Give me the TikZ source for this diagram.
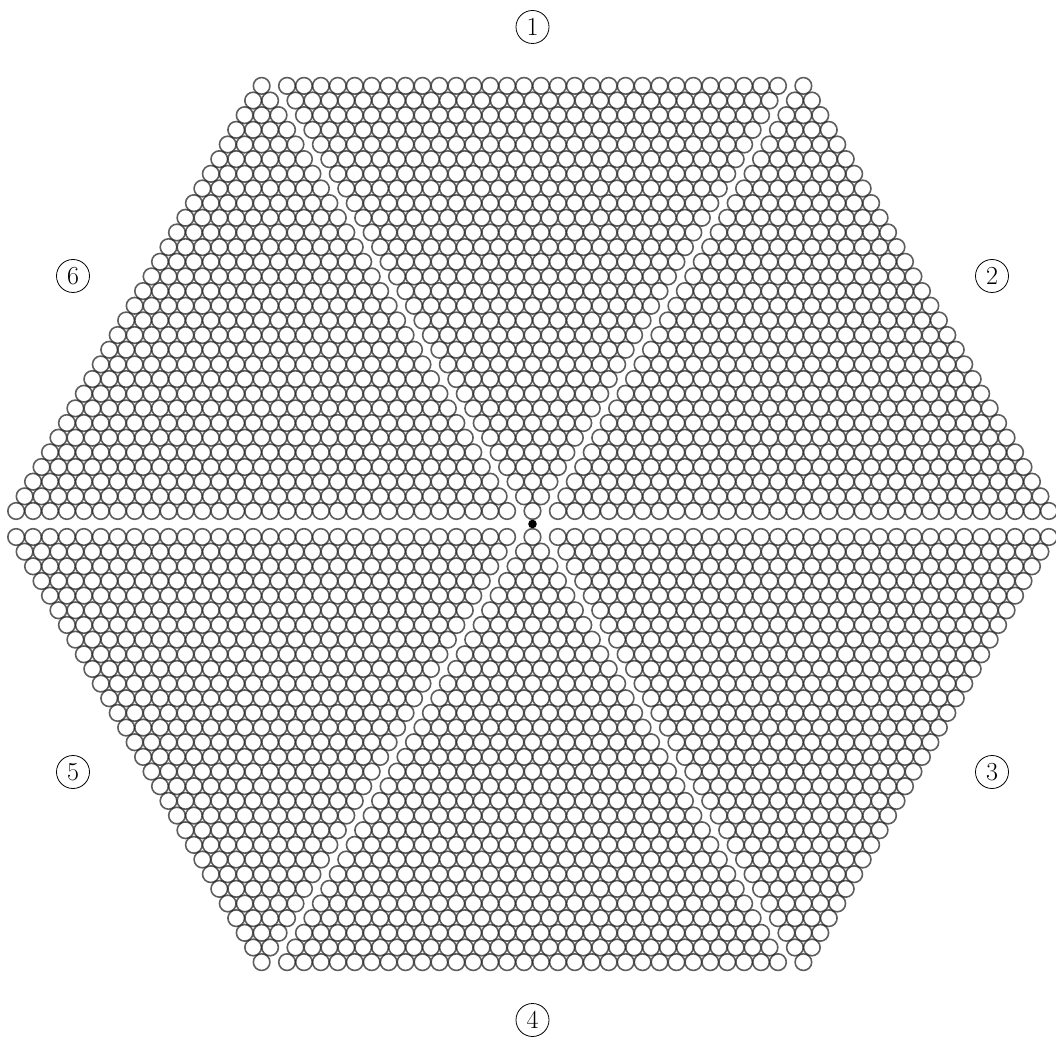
\documentclass[tikz,border=0pt]{standalone}
\usepackage{tikz}
\definecolor{ballgray}{HTML}{202020}

\tikzset{
  ball/.style={draw=ballgray, draw opacity=0.72, line width=1.6pt},
  tag/.style={circle, draw, line width=0.8pt, inner sep=0pt, minimum size=33pt,
              font=\fontsize{26}{30}\selectfont}
}
\newcommand{\dd}{16.93}
\newcommand{\hh}{14.66}
\newcommand{\rr}{8.3}
\newcommand{\gap}{13}

\begin{document}
\begin{tikzpicture}[x=1pt, y=1pt]
  \useasboundingbox (0,0) rectangle (1056,1039);
  \coordinate (C) at (532.5,515);

  \begin{scope}[shift={(C)}]
    \foreach \k in {0,...,29}{
      \pgfmathtruncatemacro\n{29-\k}
      % 1 (apex down) and 4 (apex up)
      \foreach \i in {0,...,\k}{
        \draw[ball] ({(\i-\k/2)*\dd}, {\gap+\k*\hh}) circle[radius=\rr pt];
        \draw[ball] ({(\i-\k/2)*\dd}, {-\gap-\k*\hh}) circle[radius=\rr pt];
      }
      % 2 and 6 above, 3 and 5 below
      \foreach \i in {0,...,\n}{
        \draw[ball] ({1.5*\dd+\k*\dd/2+\i*\dd}, {\gap+\k*\hh}) circle[radius=\rr pt];
        \draw[ball] ({-1.5*\dd-\k*\dd/2-\i*\dd}, {\gap+\k*\hh}) circle[radius=\rr pt];
        \draw[ball] ({1.5*\dd+\k*\dd/2+\i*\dd}, {-\gap-\k*\hh}) circle[radius=\rr pt];
        \draw[ball] ({-1.5*\dd-\k*\dd/2-\i*\dd}, {-\gap-\k*\hh}) circle[radius=\rr pt];
      }
    }
  \end{scope}

  \fill (C) circle[radius=4.3pt];

  \node[tag] (n1) at (532.5,1012) {1};
  \node[tag] (n2) at (992,763) {2};
  \node[tag] (n3) at (992,267) {3};
  \node[tag] (n4) at (532.5,19) {4};
  \node[tag] (n5) at (73,267) {5};
  \node[tag] (n6) at (73,763) {6};
\end{tikzpicture}
\end{document}
